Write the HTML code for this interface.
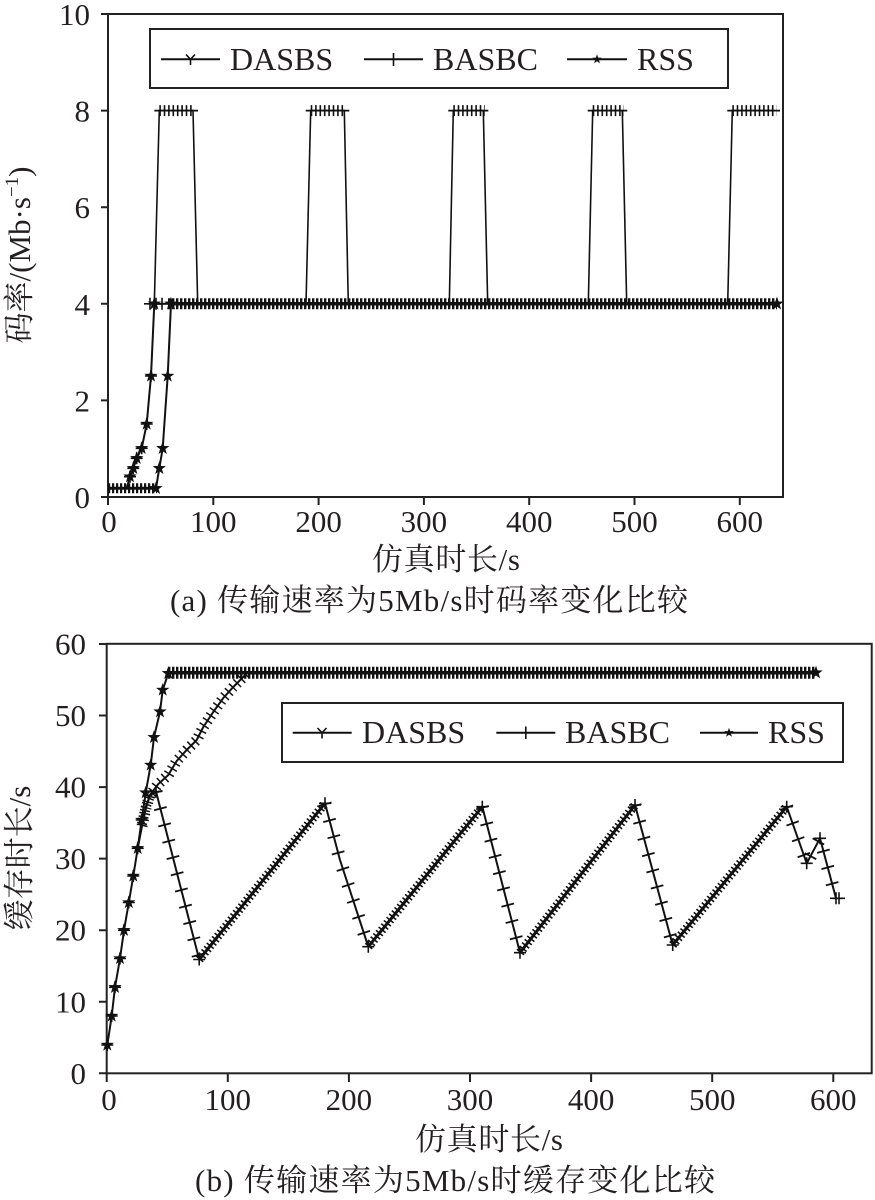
<!DOCTYPE html>
<html>
<head>
<meta charset="utf-8">
<style>
  html,body{margin:0;padding:0;background:#fff;}
  svg{display:block;font-family:"Liberation Serif","Noto Serif CJK SC","Noto Sans CJK SC",serif;}
  text{font-family:"Liberation Serif","Noto Serif CJK SC","Noto Sans CJK SC",serif;fill:#231f20;}
</style>
</head>
<body>
<svg width="875" height="1200" viewBox="0 0 875 1200" xmlns="http://www.w3.org/2000/svg" xmlns:xlink="http://www.w3.org/1999/xlink" font-family="Liberation Serif, Noto Serif CJK SC, serif">
<defs>
  <path id="star" d="M0,-7 L1.65,-2.27 L6.66,-2.16 L2.66,0.87 L4.11,5.66 L0,2.8 L-4.11,5.66 L-2.66,0.87 L-6.66,-2.16 L-1.65,-2.27 Z" fill="#111"/>
  <path id="plus" d="M-6,0H6M0,-6V6" stroke="#111" stroke-width="1.6" fill="none"/>
  <g id="sp"><use href="#star" xlink:href="#star"/><use href="#plus" xlink:href="#plus"/></g>
  <path id="lstar" d="M0,-5 L1.18,-1.62 L4.76,-1.55 L1.9,0.62 L2.94,4.05 L0,2 L-2.94,4.05 L-1.9,0.62 L-4.76,-1.55 L-1.18,-1.62 Z" fill="#111"/>
</defs>
<rect width="875" height="1200" fill="#fff"/>

<!-- ================= CHART A ================= -->
<g stroke="#222" stroke-width="2" fill="none">
  <rect x="108" y="14" width="675" height="483"/>
  <path d="M101,497H108M101,400.4H108M101,303.8H108M101,207.2H108M101,110.6H108M101,14H108"/>
  <path d="M108,497V505M213.3,497V505M318.6,497V505M423.9,497V505M529.2,497V505M634.5,497V505M739.8,497V505"/>
</g>
<g font-size="31" text-anchor="end">
  <text x="90" y="508">0</text>
  <text x="90" y="411.4">2</text>
  <text x="90" y="314.8">4</text>
  <text x="90" y="218.2">6</text>
  <text x="90" y="121.6">8</text>
  <text x="90" y="25">10</text>
</g>
<g font-size="31" text-anchor="middle">
  <text x="109" y="532">0</text>
  <text x="213.3" y="532">100</text>
  <text x="318.6" y="532">200</text>
  <text x="423.9" y="532">300</text>
  <text x="529.2" y="532">400</text>
  <text x="634.5" y="532">500</text>
  <text x="739.8" y="532">600</text>
</g>
<text x="372" y="570" font-size="31" textLength="148">仿真时长/s</text>
<text x="170" y="611" font-size="31" textLength="518">(a) 传输速率为5Mb/s时码率变化比较</text>
<text transform="translate(30,255) rotate(-90)" text-anchor="middle" font-size="31">码率/(Mb·s<tspan font-size="19" dy="-12">−1</tspan><tspan dy="12">)</tspan></text>

<!-- series a -->
<g fill="none" stroke="#111">
  <path d="M108,488.3H157" stroke-width="3"/>
  <path d="M108,488.3H157" stroke-width="10" stroke-dasharray="2.2 1.8"/>
  <path d="M126.7,488.3 L130,476.7 L133.3,468.3 L136.7,458.3 L141.7,448.3 L146.7,424 L151,376 L154.3,303.8" stroke-width="2"/>
  <path d="M156,488.3 L159.3,468.3 L162.7,448.3 L167.7,376 L171,303.8" stroke-width="2"/>
  <path d="M154.3,303.8 L159.3,110.6 H193 L197.7,303.8" stroke-width="1.6"/>
  <path d="M306,303.8 L310.7,110.6 H344.3 L348.3,303.8" stroke-width="1.6"/>
  <path d="M449.3,303.8 L453.3,110.6 H483.3 L487.7,303.8" stroke-width="1.6"/>
  <path d="M588.3,303.8 L592.7,110.6 H622.3 L626.7,303.8" stroke-width="1.6"/>
  <path d="M727.7,303.8 L732.3,110.6 H775" stroke-width="1.6"/>
  <path d="M154.3,110.6H198 M305.7,110.6H349.3 M448.3,110.6H488.3 M587.7,110.6H627.3 M727.3,110.6H780" stroke-width="1.8"/>
  <path d="M159.3,110.6H194.5 M310.7,110.6H345.8 M453.3,110.6H484.8 M592.7,110.6H623.8 M732.3,110.6H776.5" stroke-width="11" stroke-dasharray="1.6 2.8"/>
  <path d="M150,303.8H777" stroke-width="2"/>
  <path d="M168,303.8H777" stroke-width="3.5"/>
  <path d="M168,303.8H777" stroke-width="11" stroke-dasharray="2.4 1.6"/>
</g>
<g>
  <use href="#plus" xlink:href="#plus" x="150" y="303.8"/>
  <use href="#plus" xlink:href="#plus" x="156" y="303.8"/>
  <use href="#plus" xlink:href="#plus" x="162" y="303.8"/>
  <use href="#sp" xlink:href="#sp" x="130" y="476.7"/>
  <use href="#sp" xlink:href="#sp" x="133.3" y="468.3"/>
  <use href="#sp" xlink:href="#sp" x="136.7" y="458.3"/>
  <use href="#sp" xlink:href="#sp" x="141.7" y="448.3"/>
  <use href="#sp" xlink:href="#sp" x="146.7" y="424"/>
  <use href="#sp" xlink:href="#sp" x="151" y="376"/>
  <use href="#sp" xlink:href="#sp" x="154.3" y="303.8"/>
  <use href="#star" xlink:href="#star" x="156" y="488.3"/>
  <use href="#star" xlink:href="#star" x="159.3" y="468.3"/>
  <use href="#star" xlink:href="#star" x="162.7" y="448.3"/>
  <use href="#star" xlink:href="#star" x="167.7" y="376"/>
  <use href="#star" xlink:href="#star" x="171" y="303.8"/>
  <use href="#star" xlink:href="#star" x="777" y="303.8"/>
</g>

<!-- legend a -->
<rect x="150" y="29" width="578" height="59" fill="#fff" stroke="#222" stroke-width="2"/>
<g stroke="#111" stroke-width="2" fill="none">
  <path d="M161,59.3H220"/>
  <path d="M186,54.5 L190.5,59.3 L195,54.5 M190.5,59.3V65" stroke-width="1.6"/>
  <path d="M364,59.3H423"/>
  <path d="M393.5,53V66" stroke-width="1.6"/>
  <path d="M567,59.3H627"/>
</g>
<use href="#lstar" xlink:href="#lstar" x="597" y="59.3"/>
<g font-size="32">
  <text x="230" y="70">DASBS</text>
  <text x="433" y="70">BASBC</text>
  <text x="637" y="70">RSS</text>
</g>

<!-- ================= CHART B ================= -->
<g stroke="#222" stroke-width="2" fill="none">
  <rect x="106.7" y="643.8" width="765" height="429.5"/>
  <path d="M99,1073.3H106.7M99,1001.75H106.7M99,930.2H106.7M99,858.65H106.7M99,787.1H106.7M99,715.55H106.7M99,644H106.7"/>
  <path d="M106.7,1073.3V1082M227.8,1073.3V1082M348.9,1073.3V1082M470,1073.3V1082M591.1,1073.3V1082M712.2,1073.3V1082M833.3,1073.3V1082"/>
</g>
<g font-size="31" text-anchor="end">
  <text x="86" y="1084">0</text>
  <text x="86" y="1012.3">10</text>
  <text x="86" y="940.7">20</text>
  <text x="86" y="869.2">30</text>
  <text x="86" y="797.6">40</text>
  <text x="86" y="726">50</text>
  <text x="86" y="654.5">60</text>
</g>
<g font-size="31" text-anchor="middle">
  <text x="109" y="1110">0</text>
  <text x="227.8" y="1110">100</text>
  <text x="348.9" y="1110">200</text>
  <text x="470" y="1110">300</text>
  <text x="591.1" y="1110">400</text>
  <text x="712.2" y="1110">500</text>
  <text x="833.3" y="1110">600</text>
</g>
<text x="415" y="1150" font-size="31" textLength="148">仿真时长/s</text>
<text x="195" y="1191" font-size="31" textLength="520">(b) 传输速率为5Mb/s时缓存变化比较</text>
<text transform="translate(30,858) rotate(-90)" text-anchor="middle" font-size="31">缓存时长/s</text>

<!-- series b -->
<g fill="none" stroke="#111">
  <path d="M107.3,1045 L111.7,1016 L115,987.3 L120,958.5 L124,930.3 L128.8,902.5 L133.3,876 L137.7,848.3 L141.7,820 L145.7,792.7 L150.7,765 L154,737.3 L160,711.7 L162.7,690 L168.3,673.3 L170,672.7 H816" stroke-width="2"/>
  <path d="M168,672.7H816" stroke-width="3.5"/>
  <path d="M168,672.7H816" stroke-width="12" stroke-dasharray="2.4 1.6"/>
  <path d="M137.7,848.3 L142,826 L146,808 L150,795 L158.3,784 L168.3,775 L176.7,761 L186.7,750 L196.7,740 L203.3,727 L213.3,712 L223.3,698 L233.3,687 L243.3,677 L247,672.7" stroke-width="2"/>
  <path d="M142,826 L146,808 L150,795 L158.3,784 L168.3,775 L176.7,761 L186.7,750 L196.7,740 L203.3,727 L213.3,712 L223.3,698 L233.3,687 L243.3,677 L247,672.7" stroke-width="11" stroke-dasharray="1.5 4.5"/>
  <path d="M137.7,848.3 L142,824 L146,806 L150,796 L156,791.5 L199.2,959.5 L325,803.3 L340,860 L368.3,946.7 L482.3,806.7 L520,952.7 L635,805 L672.7,945 L786.7,806.7 L806.7,863.3 L820,838.3 L836,898.3" stroke-width="2"/>
  <!-- descending + markers (sparser) -->
  <path d="M156,791.5 L199.2,959.5 M325,803.3 L340,860 L368.3,946.7 M482.3,806.7 L520,952.7 M635,805 L672.7,945 M786.7,806.7 L806.7,863.3 L820,838.3 L836,898.3" stroke-width="13" stroke-dasharray="1.8 15"/>
  <!-- ascending dense markers -->
  <path d="M199.2,959.5 L325,803.3 M368.3,946.7 L482.3,806.7 M520,952.7 L635,805 M672.7,945 L786.7,806.7" stroke-width="9" stroke-dasharray="1.6 2.6"/>
  <path d="M199.2,959.5 L325,803.3 M368.3,946.7 L482.3,806.7 M520,952.7 L635,805 M672.7,945 L786.7,806.7" stroke-width="3"/>
  <path d="M142,824 L146,806 L150,796 L156,791.5" stroke-width="10" stroke-dasharray="1.5 5"/>
</g>
<g>
  <use href="#sp" xlink:href="#sp" x="107.3" y="1045"/>
  <use href="#sp" xlink:href="#sp" x="111.7" y="1016"/>
  <use href="#sp" xlink:href="#sp" x="115" y="987.3"/>
  <use href="#sp" xlink:href="#sp" x="120" y="958.5"/>
  <use href="#sp" xlink:href="#sp" x="124" y="930.3"/>
  <use href="#sp" xlink:href="#sp" x="128.8" y="902.5"/>
  <use href="#sp" xlink:href="#sp" x="133.3" y="876"/>
  <use href="#sp" xlink:href="#sp" x="137.7" y="848.3"/>
  <use href="#sp" xlink:href="#sp" x="141.7" y="820"/>
  <use href="#star" xlink:href="#star" x="145.7" y="792.7"/>
  <use href="#star" xlink:href="#star" x="150.7" y="765"/>
  <use href="#star" xlink:href="#star" x="154" y="737.3"/>
  <use href="#star" xlink:href="#star" x="160" y="711.7"/>
  <use href="#star" xlink:href="#star" x="162.7" y="690"/>
  <use href="#star" xlink:href="#star" x="168.3" y="673.3"/>
  <use href="#star" xlink:href="#star" x="816" y="672.7"/>
  <use href="#plus" xlink:href="#plus" x="156" y="791.5"/>
  <use href="#plus" xlink:href="#plus" x="199.2" y="959.5"/>
  <use href="#plus" xlink:href="#plus" x="325" y="803.3"/>
  <use href="#plus" xlink:href="#plus" x="368.3" y="946.7"/>
  <use href="#plus" xlink:href="#plus" x="482.3" y="806.7"/>
  <use href="#plus" xlink:href="#plus" x="520" y="952.7"/>
  <use href="#plus" xlink:href="#plus" x="635" y="805"/>
  <use href="#plus" xlink:href="#plus" x="672.7" y="945"/>
  <use href="#plus" xlink:href="#plus" x="786.7" y="806.7"/>
  <use href="#plus" xlink:href="#plus" x="806.7" y="863.3"/>
  <use href="#plus" xlink:href="#plus" x="820" y="838.3"/>
  <use href="#plus" xlink:href="#plus" x="836" y="898.3"/>
  <use href="#plus" xlink:href="#plus" x="839" y="898.3"/>
</g>

<!-- legend b -->
<rect x="282" y="703" width="561" height="59" fill="#fff" stroke="#222" stroke-width="2"/>
<g stroke="#111" stroke-width="2" fill="none">
  <path d="M292.7,732.7H351.7"/>
  <path d="M317.5,728 L322,732.7 L326.5,728 M322,732.7V738.5" stroke-width="1.6"/>
  <path d="M496.3,732.7H555.3"/>
  <path d="M525.8,726.5V739" stroke-width="1.6"/>
  <path d="M700,732.7H758"/>
</g>
<use href="#lstar" xlink:href="#lstar" x="729" y="732.7"/>
<g font-size="32">
  <text x="362" y="743">DASBS</text>
  <text x="565" y="743">BASBC</text>
  <text x="768" y="743">RSS</text>
</g>
</svg>
</body>
</html>
